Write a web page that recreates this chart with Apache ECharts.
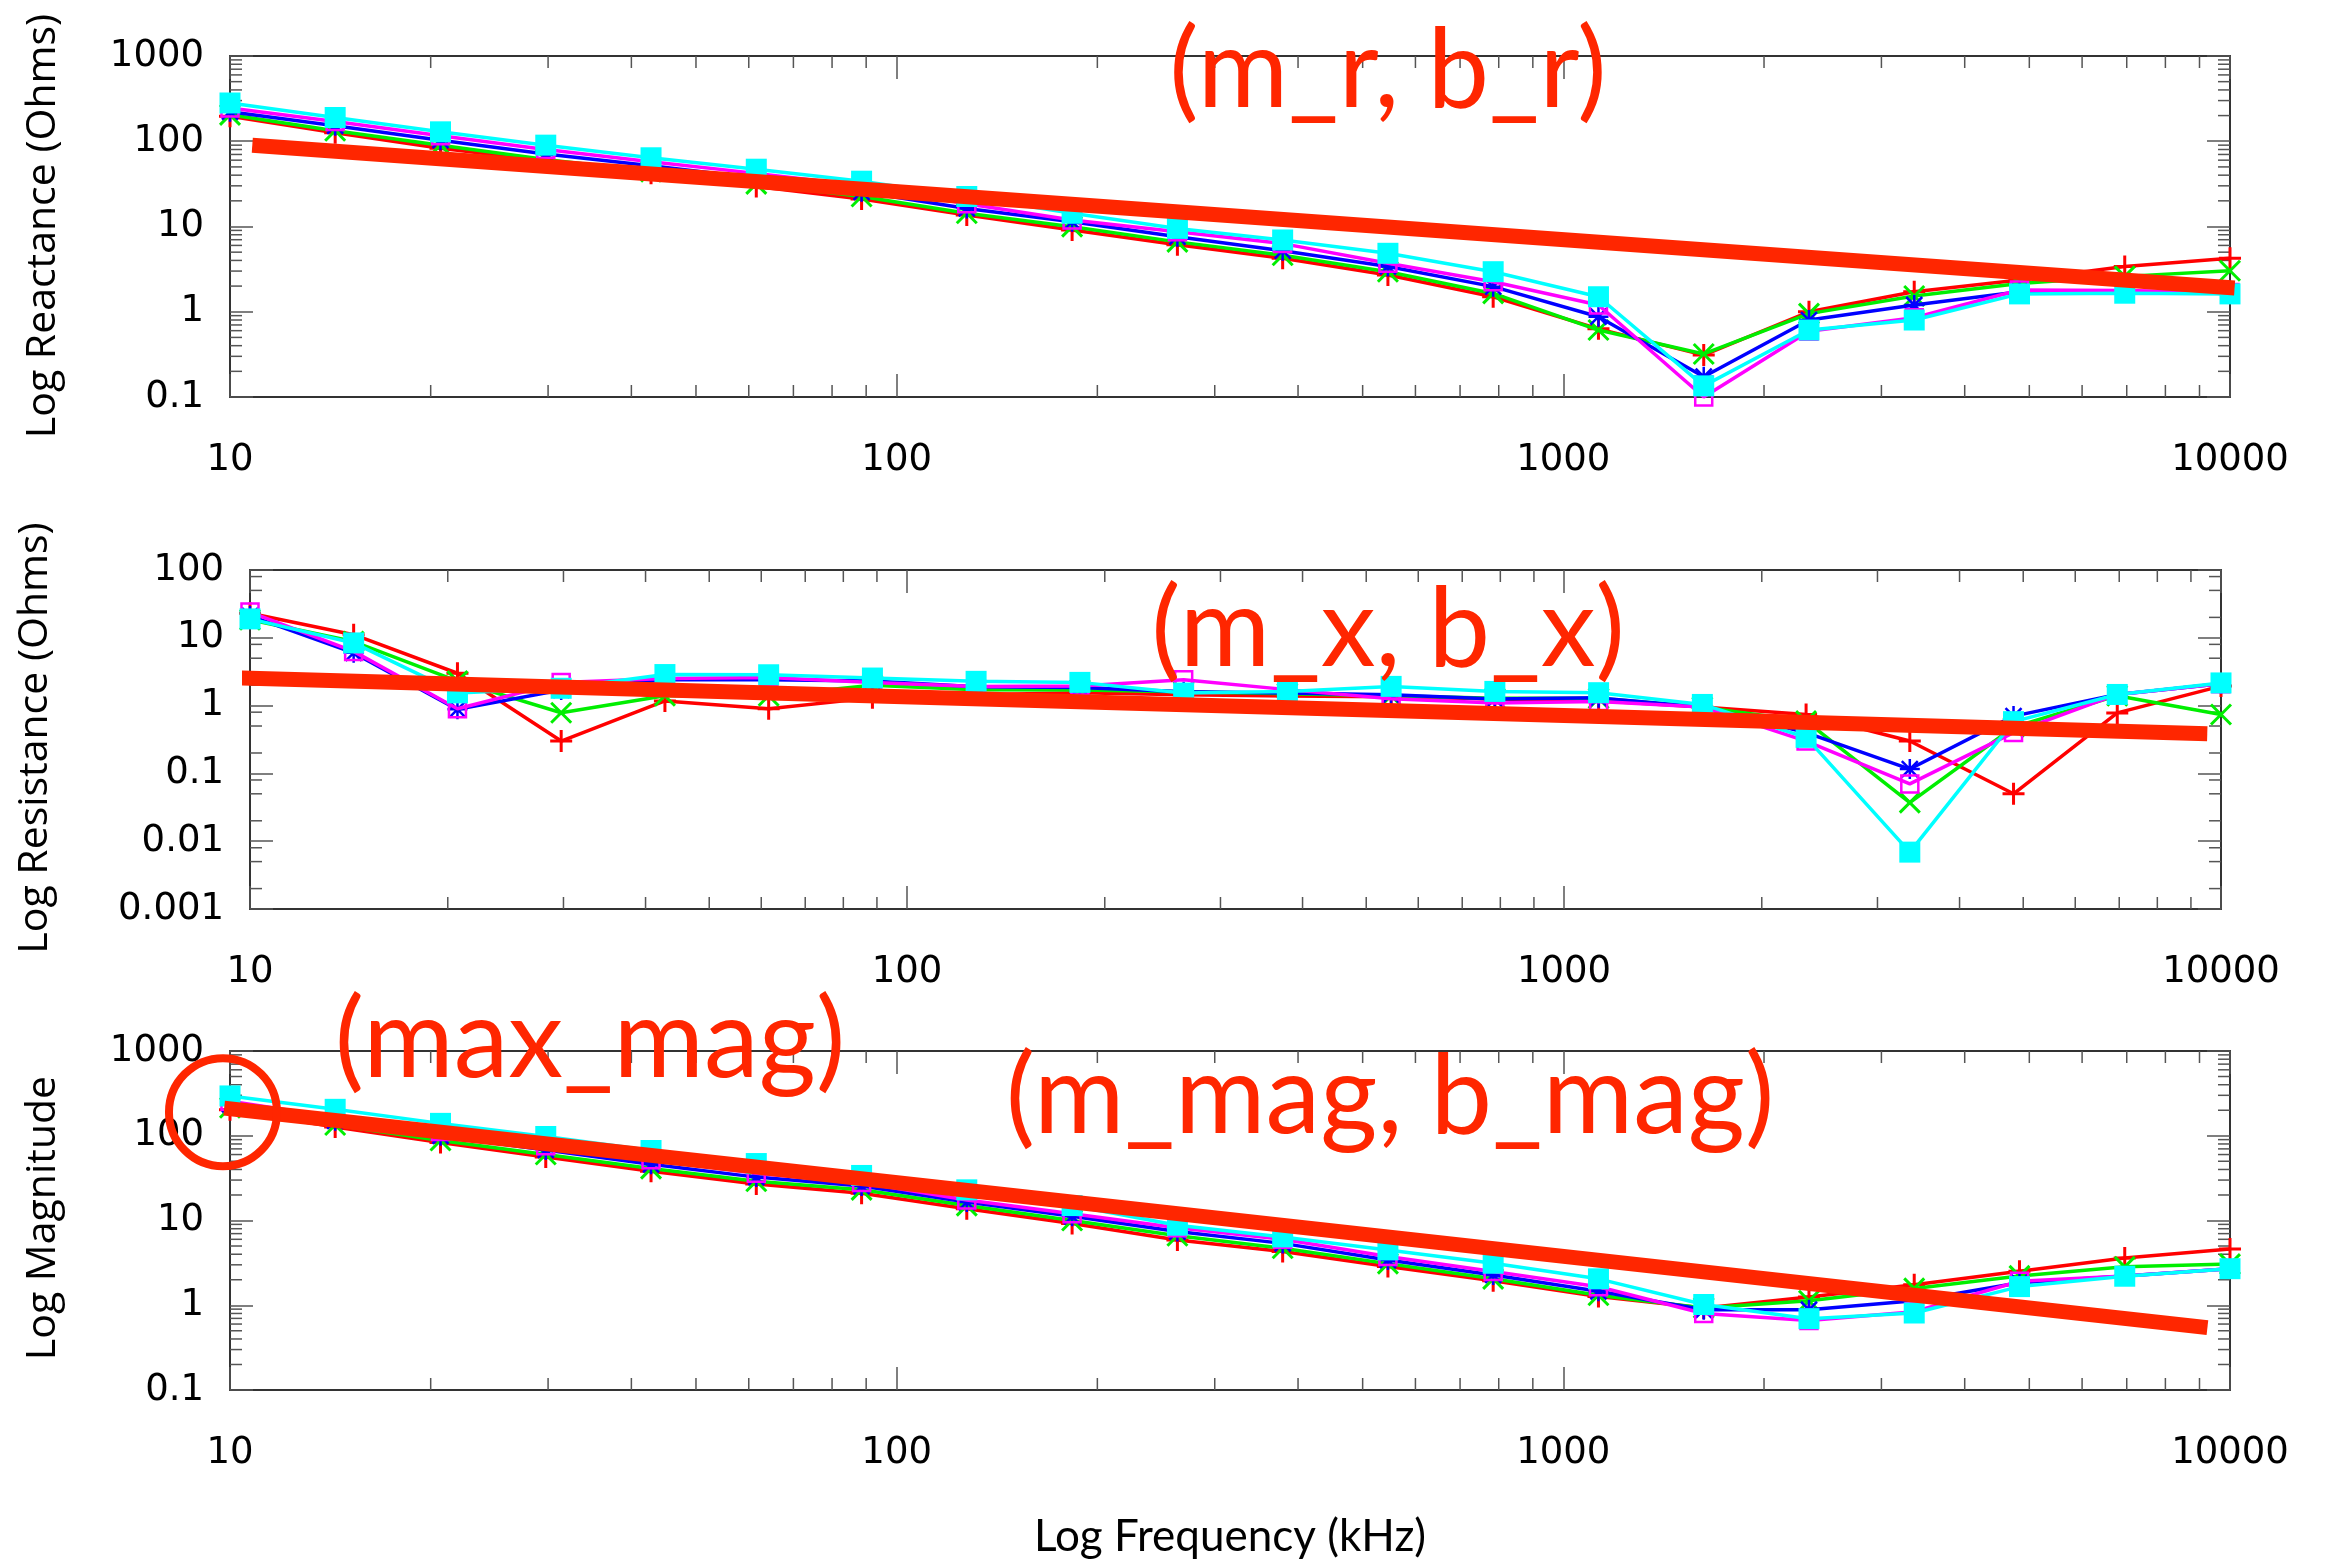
<!DOCTYPE html>
<html><head><meta charset="utf-8">
<script src="https://cdn.jsdelivr.net/npm/echarts@6/dist/echarts.min.js"></script>
<style>html,body{margin:0;padding:0;background:#fff}#c{width:2328px;height:1562px}</style>
</head><body><div id="c"></div>
<script>
// ---------- data ----------
const FREQ = [10, 14.38, 20.69, 29.76, 42.81, 61.58, 88.59, 127.4, 183.3, 263.7, 379.3, 545.6, 784.8, 1129, 1624, 2336, 3360, 4833, 6952, 10000];

const REACT_RED     = [196, 126, 83, 59, 42, 29.5, 21, 13.6, 9.1, 6.1, 4.24, 2.7, 1.5, 0.63, 0.31, 1.0, 1.72, 2.36, 3.4, 4.24];
const REACT_GREEN   = [204, 133, 90, 61, 44, 31.6, 22.5, 14.3, 9.95, 6.6, 4.6, 2.95, 1.64, 0.61, 0.32, 0.95, 1.53, 2.15, 2.6, 3.03];
const REACT_BLUE    = [222, 152, 103, 71, 51.6, 36.7, 25.5, 16.3, 11.4, 7.6, 5.2, 3.4, 1.97, 0.875, 0.173, 0.8, 1.2, 1.72, 1.72, 1.65];
const REACT_MAGENTA = [245, 170, 116, 80, 57.6, 42, 30, 18.5, 11.9, 8.7, 6.3, 3.7, 2.25, 1.2, 0.1, 0.59, 0.85, 1.8, 1.78, 1.68];
const REACT_CYAN    = [281, 190, 129, 90, 64, 47, 34, 22.5, 14.3, 9.5, 6.95, 4.85, 2.95, 1.5, 0.135, 0.61, 0.8, 1.62, 1.65, 1.62];

const RESIST_RED     = [23, 11.1, 3.0, 0.30, 1.17, 0.9, 1.3, 1.45, 1.55, 1.45, 1.38, 1.35, 1.25, 1.18, 0.95, 0.74, 0.30, 0.05, 0.78, 1.94];
const RESIST_GREEN   = [18.5, 8.8, 2.3, 0.785, 1.4, 1.4, 2.0, 1.72, 1.7, 1.6, 1.5, 1.4, 1.28, 1.28, 0.95, 0.59, 0.037, 0.48, 1.4, 0.74];
const RESIST_BLUE    = [21, 6.0, 0.88, 1.7, 2.4, 2.4, 2.3, 1.9, 1.85, 1.6, 1.53, 1.45, 1.25, 1.3, 0.95, 0.40, 0.116, 0.70, 1.46, 2.1];
const RESIST_MAGENTA = [24, 6.3, 0.9, 2.2, 2.5, 2.6, 2.2, 1.92, 1.95, 2.41, 1.72, 1.26, 1.09, 1.15, 0.95, 0.30, 0.07, 0.40, 1.46, 2.1];
const RESIST_CYAN    = [19, 8.4, 1.54, 1.8, 2.87, 2.85, 2.55, 2.28, 2.2, 1.53, 1.62, 1.92, 1.62, 1.55, 1.04, 0.34, 0.0069, 0.58, 1.46, 2.16];

const MAG_RED     = [202, 127, 83, 56, 38, 27, 21, 13.8, 9.2, 5.9, 4.3, 2.86, 1.94, 1.27, 0.93, 1.25, 1.75, 2.52, 3.6, 4.6];
const MAG_GREEN   = [214, 134, 88, 60, 41, 29, 23, 15, 10, 6.6, 4.7, 3.1, 2.05, 1.31, 0.93, 1.13, 1.58, 2.22, 2.84, 3.06];
const MAG_BLUE    = [235, 150, 100, 68, 46, 32.5, 25.5, 16.5, 11.2, 7.4, 5.37, 3.42, 2.28, 1.46, 0.885, 0.885, 1.13, 1.84, 2.22, 2.7];
const MAG_MAGENTA = [255, 165, 112, 76, 52, 36, 28, 17.5, 12, 8.2, 6.0, 3.75, 2.5, 1.65, 0.80, 0.66, 0.84, 1.92, 2.22, 2.7];
const MAG_CYAN    = [295, 205, 140, 98, 67, 47, 34, 23, 15, 8.8, 6.4, 4.5, 3.13, 2.05, 1.02, 0.695, 0.81, 1.66, 2.2, 2.7];

// fitted straight lines (end points) and the circled maximum
const FIT_REACT  = [[10.8, 90], [10160, 1.9]];
const FIT_RESIST = [[9.13, 2.6], [9530, 0.385]];
const FIT_MAG    = [[9.8, 212], [9250, 0.545]];
const MAX_MAG_POINT = [[9.76, 190]];

// axis ranges and minor tick values
const X_RANGE = [10, 10000];
const Y_RANGES = [[0.1, 1000], [0.001, 100], [0.1, 1000]];
const X_MINOR = [20,30,40,50,60,70,80,90, 200,300,400,500,600,700,800,900, 2000,3000,4000,5000,6000,7000,8000,9000];
const Y_MINOR_WIDE = [0.2,0.3,0.4,0.5,0.6,0.7,0.8,0.9, 2,3,4,5,6,7,8,9, 20,30,40,50,60,70,80,90, 200,300,400,500,600,700,800,900];
const Y_MINOR_RES = [0.002,0.005,0.008, 0.02,0.05,0.08, 0.2,0.5,0.8, 2,5,8, 20,50,80];

const Y_TITLES = ['Log Reactance (Ohms)', 'Log Resistance (Ohms)', 'Log Magnitude'];
const X_TITLE = 'Log Frequency (kHz)';
const NOTES = ['(m_r, b_r)', '(m_x, b_x)', '(max_mag)', '(m_mag, b_mag)'];

// ---------- style ----------
const RED_NOTE = '#ff2600';
const AXIS_COLOR = '#333';
const TICK_COLOR = '#555';
const GRIDS = [
  {left: 230, top: 56, width: 2000, height: 341},
  {left: 250, top: 570, width: 1971, height: 339},
  {left: 230, top: 1051, width: 2000, height: 339}
];
const SYMS = {
  plus:  'path://M1,0L1,2M0,1L2,1',
  cross: 'path://M0,0L2,2M0,2L2,0',
  star:  'path://M1,0L1,2M0,1L2,1M0.2,0.2L1.8,1.8M0.2,1.8L1.8,0.2',
  box:   'path://M0,0L2,0L2,2L0,2Z'
};
const SERIES_DEF = [
  {color: '#ff0000', symbol: SYMS.plus,  size: 22, border: 3,   fill: 'rgba(0,0,0,0)'},
  {color: '#00ee00', symbol: SYMS.cross, size: 20, border: 3,   fill: 'rgba(0,0,0,0)'},
  {color: '#0000ff', symbol: SYMS.star,  size: 20, border: 2.5, fill: 'rgba(0,0,0,0)'},
  {color: '#ff00ff', symbol: SYMS.box,   size: 17, border: 2.5, fill: 'rgba(0,0,0,0)'},
  {color: '#00ffff', symbol: 'rect',     size: 21, border: 0,   fill: '#00ffff'}
];
const PANEL_DATA = [
  [REACT_RED, REACT_GREEN, REACT_BLUE, REACT_MAGENTA, REACT_CYAN],
  [RESIST_RED, RESIST_GREEN, RESIST_BLUE, RESIST_MAGENTA, RESIST_CYAN],
  [MAG_RED, MAG_GREEN, MAG_BLUE, MAG_MAGENTA, MAG_CYAN]
];
const FITS = [FIT_REACT, FIT_RESIST, FIT_MAG];

const MAJOR_LEN = 23, MINOR_LEN = 12;
const numFmt = v => String(+(+v).toPrecision(6));
const LABEL_FONT = {fontFamily: 'DejaVu Sans', fontSize: 37, color: '#000', formatter: numFmt};

const xAxes = [], yAxes = [], series = [];
GRIDS.forEach((g, i) => {
  const common = {
    type: 'log', logBase: 10, gridIndex: i,
    axisLine: {show: true, onZero: false, lineStyle: {color: AXIS_COLOR, width: 2}},
    axisTick: {show: true, inside: true, length: MAJOR_LEN, lineStyle: {color: TICK_COLOR, width: 1.5}},
    splitLine: {show: false}, minorTick: {show: false}
  };
  xAxes.push(Object.assign({}, common, {
    min: X_RANGE[0], max: X_RANGE[1], position: 'bottom',
    axisLabel: Object.assign({show: true, margin: 45}, LABEL_FONT)
  }));
  xAxes.push(Object.assign({}, common, {
    min: X_RANGE[0], max: X_RANGE[1], position: 'top', axisLabel: {show: false}
  }));
  yAxes.push(Object.assign({}, common, {
    min: Y_RANGES[i][0], max: Y_RANGES[i][1], position: 'left',
    axisLabel: Object.assign({show: true, margin: 26}, LABEL_FONT)
  }));
  yAxes.push(Object.assign({}, common, {
    min: Y_RANGES[i][0], max: Y_RANGES[i][1], position: 'right', axisLabel: {show: false}
  }));

  const xi = 2 * i, yi = 2 * i;
  const tickStyle = {stroke: TICK_COLOR, lineWidth: 1.5};
  // minor ticks along x (bottom and top)
  series.push({
    type: 'custom', xAxisIndex: xi, yAxisIndex: yi, silent: true, z: 1,
    data: X_MINOR.map(v => [v, Y_RANGES[i][0]]),
    renderItem: (params, api) => {
      const cs = params.coordSys;
      const x = api.coord([api.value(0), api.value(1)])[0];
      return {type: 'group', children: [
        {type: 'line', shape: {x1: x, y1: cs.y + cs.height, x2: x, y2: cs.y + cs.height - MINOR_LEN}, style: tickStyle},
        {type: 'line', shape: {x1: x, y1: cs.y, x2: x, y2: cs.y + MINOR_LEN}, style: tickStyle}
      ]};
    }
  });
  // minor ticks along y (left and right)
  series.push({
    type: 'custom', xAxisIndex: xi, yAxisIndex: yi, silent: true, z: 1,
    data: (i === 1 ? Y_MINOR_RES : Y_MINOR_WIDE).map(v => [X_RANGE[0], v]),
    renderItem: (params, api) => {
      const cs = params.coordSys;
      const y = api.coord([api.value(0), api.value(1)])[1];
      return {type: 'group', children: [
        {type: 'line', shape: {x1: cs.x, y1: y, x2: cs.x + MINOR_LEN, y2: y}, style: tickStyle},
        {type: 'line', shape: {x1: cs.x + cs.width, y1: y, x2: cs.x + cs.width - MINOR_LEN, y2: y}, style: tickStyle}
      ]};
    }
  });
  // measured series
  PANEL_DATA[i].forEach((vals, k) => {
    const d = SERIES_DEF[k];
    series.push({
      type: 'line', xAxisIndex: xi, yAxisIndex: yi, z: 2 + k * 0.01,
      data: FREQ.map((f, j) => [f, vals[j]]),
      symbol: d.symbol, symbolSize: d.size, showAllSymbol: true, clip: false,
      lineStyle: {color: d.color, width: 3.5},
      itemStyle: {color: d.fill, borderColor: d.color, borderWidth: d.border, opacity: 1},
      emphasis: {disabled: true}, animation: false
    });
  });
  // fitted line
  series.push({
    type: 'line', xAxisIndex: xi, yAxisIndex: yi, z: 5,
    data: FITS[i], symbol: 'none', clip: false,
    lineStyle: {color: RED_NOTE, width: 15, cap: 'butt'},
    emphasis: {disabled: true}, animation: false
  });
});
// circle around max magnitude
series.push({
  type: 'scatter', xAxisIndex: 4, yAxisIndex: 4, z: 6, clip: false,
  data: MAX_MAG_POINT, symbol: 'circle', symbolSize: 108,
  itemStyle: {color: 'rgba(0,0,0,0)', borderColor: RED_NOTE, borderWidth: 8, opacity: 1},
  emphasis: {disabled: true}, animation: false
});

const noteText = (txt, x, y) => ({
  type: 'text', x: x, y: y, z: 100,
  style: {text: txt, font: '110px Lato', fill: RED_NOTE, textAlign: 'center', textVerticalAlign: 'middle', align: 'center', verticalAlign: 'middle'}
});
const yTitle = (txt, x, y) => ({
  type: 'text', x: x, y: y, rotation: Math.PI / 2, z: 100,
  style: {text: txt, font: '41px "Open Sans"', fill: '#000', textAlign: 'center', textVerticalAlign: 'middle', align: 'center', verticalAlign: 'middle'}
});

const chart = echarts.init(document.getElementById('c'), null, {renderer: 'canvas'});
chart.setOption({
  animation: false,
  backgroundColor: '#fff',
  grid: GRIDS.map(g => Object.assign({containLabel: false}, g)),
  xAxis: xAxes,
  yAxis: yAxes,
  series: series,
  graphic: [
    noteText(NOTES[0], 1388, 72),
    noteText(NOTES[1], 1388, 631),
    noteText(NOTES[2], 590, 1042),
    noteText(NOTES[3], 1390, 1098),
    yTitle(Y_TITLES[0], 43, 226),
    yTitle(Y_TITLES[1], 35, 738),
    yTitle(Y_TITLES[2], 43, 1218),
    {type: 'text', x: 1230, y: 1537, z: 100,
     style: {text: X_TITLE, font: '44px Lato', fill: '#000', textAlign: 'center', textVerticalAlign: 'middle', align: 'center', verticalAlign: 'middle'}}
  ]
});
</script>
</body></html>
